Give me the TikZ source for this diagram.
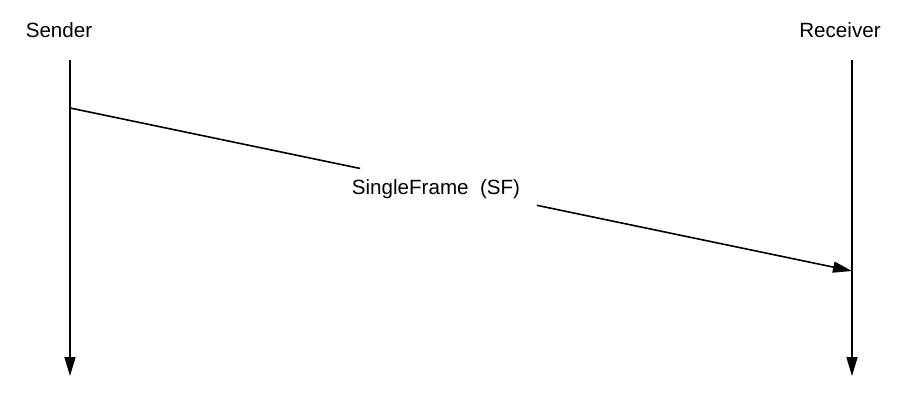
\documentclass[tikz,border=0pt]{standalone}
\usepackage{fontspec}
\setmainfont{Liberation Sans}
\usetikzlibrary{arrows.meta,calc}

\begin{document}
\begin{tikzpicture}[x=1pt,y=-1pt,
    lifeline/.style={line width=1.6pt,-{Triangle[length=19pt,width=11pt]}},
    message/.style={line width=1.6pt},
    party/.style={font=\fontsize{20.6}{24}\selectfont,inner sep=0pt}]
   \useasboundingbox (0,0) rectangle (911,404);
   \foreach \x/\name/\title/\lx in {70/S/Sender/59,852/R/Receiver/840} {
    \node[party] (\name label) at (\lx,30) {\title};
    \coordinate (\name top) at (\x,60);
    \coordinate (\name bot) at (\x,376);
    \draw[lifeline] (\name top) -- (\name bot);
   }
   \coordinate (SF start) at (70,108);
   \coordinate (SF end) at (852,271);
   \path (SF start) -- coordinate[pos=0.371] (SF gap1) coordinate[pos=0.597] (SF gap2) (SF end);
   \draw[message] (SF start) -- (SF gap1);
   \draw[message,-{Triangle[length=19pt,width=11pt]}] (SF gap2) -- (SF end);
   \node[party] (SF label) at (436,189) {SingleFrame\ \ (SF)};
  \end{tikzpicture}
\end{document}
